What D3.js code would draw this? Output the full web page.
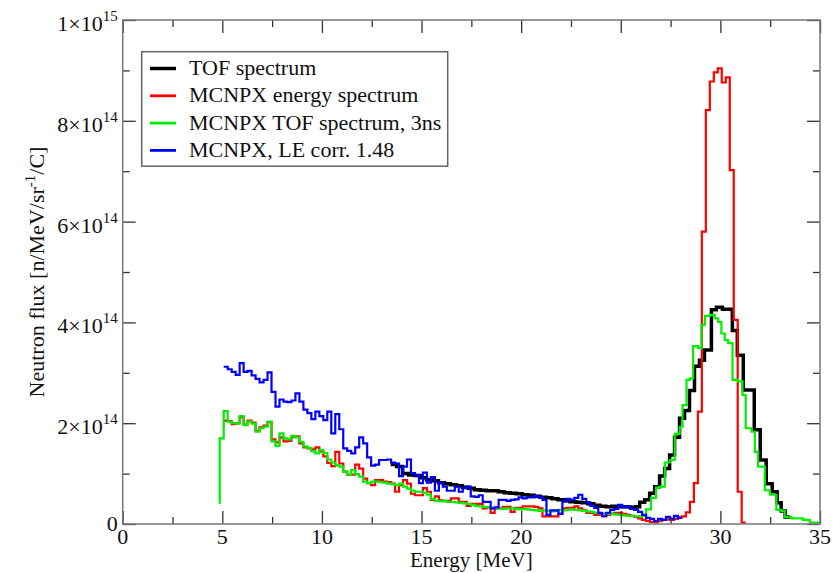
<!DOCTYPE html>
<html><head><meta charset="utf-8">
<script src="https://cdn.jsdelivr.net/npm/d3@7"></script>
<style>
body{margin:0;background:#fff}
svg text{font-family:"Liberation Serif","DejaVu Serif","Times New Roman",serif;}
</style>
</head><body><svg id="c" width="840" height="573"></svg>
<script>
// Values in units of 1e14 n/MeV/sr/C
const gridStart = 5.07, gridStep = 0.2;

const redValues = [
2.05,2.04,1.98,2.00,2.12,1.97,2.05,2.01,1.85,1.92,
1.95,2.02,1.68,1.62,1.72,1.64,1.65,1.73,1.74,1.60,
1.52,1.50,1.48,1.52,1.44,1.34,1.21,1.15,1.43,1.20,
1.04,0.98,0.98,1.18,1.10,0.90,0.81,
0.77,0.87,0.87,0.84,0.83,0.80,0.64,0.77,0.87,0.80,
0.60,0.57,0.57,0.71,0.64,0.48,0.55,0.47,0.46,0.46,
0.51,0.51,0.44,0.44,0.36,0.40,0.40,0.40,0.31,0.33,
0.22,0.31,0.31,0.34,0.34,0.24,0.32,0.32,0.35,0.35,
0.35,0.34,0.31,0.15,0.15,0.15,0.15,0.20,0.31,0.32,
0.32,0.35,0.31,0.27,0.22,0.22,0.18,0.18,0.15,0.18,
0.20,0.22,0.22,0.20,0.18,0.16,0.14,0.11,0.08,0.06,
0.04,0.03,0.06,0.08,0.09,0.08,0.10,0.13,0.15,
0.23,0.44,0.81,2.23,5.80,8.21,8.78,8.96,9.04,8.76,8.86,7.02,4.05,0.64,0.03
];

const blueValues = [
3.12,3.07,3.02,2.96,3.19,3.02,3.04,2.95,2.88,2.81,
2.86,3.01,2.62,2.33,2.47,2.43,2.42,2.45,2.59,2.43,
2.27,2.20,2.08,2.23,2.14,2.06,2.23,1.80,2.18,1.88,
1.50,1.45,1.40,1.52,1.72,1.60,1.32,
1.16,1.18,1.27,1.27,1.28,1.22,1.20,0.95,1.14,1.28,
1.01,0.97,0.81,1.02,0.82,0.93,0.66,0.82,0.74,0.66,
0.66,0.74,0.64,0.71,0.74,0.55,0.54,0.57,0.44,0.44,
0.31,0.33,0.48,0.48,0.46,0.48,0.49,0.53,0.51,0.53,
0.53,0.56,0.53,0.48,0.18,0.27,0.27,0.20,0.45,0.50,
0.48,0.52,0.58,0.50,0.43,0.36,0.32,0.22,0.16,0.22,
0.28,0.30,0.38,0.33,0.35,0.30,0.28,0.24,0.18,0.12,
0.10,0.06,0.10,0.08,0.14,0.10,0.16,0.12
];

const greenHeadE = [4.87, 4.87];
const greenHeadV = [0.40, 1.70];
const greenGridValues = [
2.24,2.03,2.00,1.99,2.14,1.96,2.03,1.99,1.83,1.90,
1.93,2.03,1.64,1.55,1.80,1.70,1.68,1.75,1.72,1.63,
1.54,1.51,1.44,1.40,1.47,1.41,1.28,1.22,1.17,1.14,
1.04,0.98,1.07,0.99,0.94,0.84,0.81,
0.84,0.84,0.83,0.82,0.80,0.79,0.77,0.80,0.74,0.70,
0.66,0.64,0.64,0.62,0.58,0.50,0.46,0.45,0.46,0.44,
0.44,0.43,0.42,0.41,0.40,0.38,0.36,0.35,0.34,0.33,
0.32,0.31,0.31,0.30,0.31,0.31,0.30,0.29,0.30,0.29,
0.28,0.27,0.26,0.27,0.26,0.25,0.26,0.28,0.27,0.28,
0.29,0.28,0.27,0.26,0.25,0.24,0.22,0.21,0.21,0.20,
0.20,0.19,0.18,0.17,0.16,0.16,0.15,0.15,0.16
];
const greenTailE = [26.27,26.52,26.77,26.96,27.21,27.46,27.71,27.96,28.10,28.30,28.47,28.63,28.88,29.05,29.22,29.47,29.72,29.89,30.05,30.22,30.39,30.61,30.89,31.11,31.27,31.56,31.73,31.89,32.23,32.48,32.81,33.06,33.23,33.57,34.15,34.49];
const greenTailV = [0.29,0.52,0.72,0.74,1.22,1.27,1.79,1.93,2.36,2.86,2.89,3.53,3.49,3.95,4.13,4.15,4.08,4.01,3.78,3.65,3.59,2.86,2.83,2.56,1.90,1.83,1.43,1.14,0.67,0.58,0.28,0.26,0.14,0.11,0.08,0.03];
const greenEnd = 35.0;

const blackE = [13.45,13.75,14.05,14.35,14.65,14.95,15.25,15.55,15.85,16.15,16.45,16.75,17.05,17.35,17.65,17.95,18.25,18.55,18.85,19.15,19.45,19.75,20.05,20.35,20.65,20.95,21.25,21.55,21.85,22.15,22.45,22.75,23.05,23.35,23.65,23.95,24.25,24.55,24.85,25.15,25.45,25.75,25.95,26.20,26.45,26.70,26.95,27.20,27.45,27.70,27.95,28.20,28.45,28.70,28.95,29.20,29.55,29.80,30.10,30.60,30.85,31.15,31.70,32.00,32.30,32.60,32.85,33.05,33.25];
const blackV = [1.18,1.14,1.00,0.97,0.96,0.92,0.88,0.86,0.82,0.80,0.78,0.76,0.73,0.71,0.68,0.67,0.66,0.66,0.64,0.62,0.61,0.60,0.58,0.57,0.55,0.53,0.52,0.50,0.48,0.46,0.44,0.43,0.42,0.40,0.37,0.35,0.34,0.35,0.34,0.34,0.33,0.34,0.43,0.48,0.61,0.74,0.95,1.10,1.37,1.72,2.10,2.25,2.65,3.13,3.25,3.45,4.25,4.30,4.26,3.84,3.35,2.66,1.87,1.27,0.80,0.64,0.42,0.26,0.14];
const blackEnd = 33.5;

const xMajorTicks = [0,5,10,15,20,25,30,35];
const xMinorTicks = [2.5,7.5,12.5,17.5,22.5,27.5,32.5];
const yMajorTicks = [0,2,4,6,8,10];
const yMinorTicks = [1,3,5,7,9];
const yTickMain = ["0","2\u00d710","4\u00d710","6\u00d710","8\u00d710","1\u00d710"];
const yTickSup  = ["","14","14","14","14","15"];

const legendLabels = ["TOF spectrum","MCNPX energy spectrum","MCNPX TOF spectrum, 3ns","MCNPX, LE corr. 1.48"];
const seriesColors = ["#000000","#ff0000","#00ee00","#0000ff"];
const seriesWidths = [3.5,2.2,2.2,2.2];

// ---- build point lists (step-after) ----
function gridPoints(vals, start){
  const pts = vals.map((v,i)=>[start + i*gridStep, v]);
  pts.push([start + vals.length*gridStep, vals[vals.length-1]]);
  return pts;
}
function edgePoints(E, V, end){
  const pts = E.map((e,i)=>[e, V[i]]);
  pts.push([end, V[V.length-1]]);
  return pts;
}
const redPts = gridPoints(redValues, gridStart);
const bluePts = gridPoints(blueValues, gridStart);
const greenPts = greenHeadE.map((e,i)=>[e, greenHeadV[i]])
  .concat(greenGridValues.map((v,i)=>[gridStart+i*gridStep, v]))
  .concat(edgePoints(greenTailE, greenTailV, greenEnd));
const blackPts = edgePoints(blackE, blackV, blackEnd);
const allSeries = [blackPts, redPts, greenPts, bluePts];

const svg = d3.select("#c");
const L = 122.7, R = 820, T = 20, B = 524;
const x = d3.scaleLinear().domain([0,35]).range([L,R]);
const y = d3.scaleLinear().domain([0,10]).range([B,T]);

svg.append("defs").append("clipPath").attr("id","clip")
  .append("rect").attr("x",L).attr("y",T).attr("width",R-L).attr("height",B-T);

const line = d3.line().x(d=>x(d[0])).y(d=>y(d[1])).curve(d3.curveStepAfter);
const g = svg.append("g").attr("clip-path","url(#clip)");
allSeries.forEach((pts,i)=>{
  g.append("path").attr("d", line(pts)).attr("fill","none")
   .attr("stroke", seriesColors[i]).attr("stroke-width", seriesWidths[i])
   .attr("stroke-linejoin","miter");
});

// ---- axes (ticks inward) ----
function ax(gen, tr, vals, size){
  const a = svg.append("g").attr("transform", tr)
    .call(gen.tickValues(vals).tickSize(-size).tickFormat(""));
  a.select(".domain").remove();
  a.selectAll("line").attr("stroke","#333").attr("stroke-width",1.3);
}
ax(d3.axisBottom(x), `translate(0,${B})`, xMajorTicks, 13);
ax(d3.axisBottom(x), `translate(0,${B})`, xMinorTicks, 7);
ax(d3.axisTop(x), `translate(0,${T})`, xMajorTicks, 13);
ax(d3.axisTop(x), `translate(0,${T})`, xMinorTicks, 7);
ax(d3.axisLeft(y), `translate(${L},0)`, yMajorTicks, 13);
ax(d3.axisLeft(y), `translate(${L},0)`, yMinorTicks, 7);
ax(d3.axisRight(y), `translate(${R},0)`, yMajorTicks, 13);
ax(d3.axisRight(y), `translate(${R},0)`, yMinorTicks, 7);

svg.append("rect").attr("x",L).attr("y",T).attr("width",R-L).attr("height",B-T)
  .attr("fill","none").attr("stroke","#777").attr("stroke-width",1.5);

// tick labels
svg.append("g").selectAll("text").data(xMajorTicks).join("text")
  .attr("x", d=>x(d)).attr("y", B+19.5).attr("text-anchor","middle")
  .attr("font-size",22).attr("fill","#111").text(d=>d);

const yl = svg.append("g").selectAll("text").data(yMajorTicks).join("text")
  .attr("x", L-5).attr("y", d=>y(d)+ (d===0?7:11)).attr("text-anchor","end")
  .attr("font-size",22).attr("fill","#111");
yl.each(function(d,i){
  const t = d3.select(this);
  t.append("tspan").text(yTickMain[i]);
  if (yTickSup[i]) t.append("tspan").attr("dy",-10).attr("font-size",15).text(yTickSup[i]);
});

// axis titles
svg.append("text").attr("x",(L+R)/2).attr("y",567).attr("text-anchor","middle")
  .attr("font-size",21).attr("fill","#111").text("Energy [MeV]");
const yt = svg.append("text").attr("transform",`translate(44,${(T+B)/2}) rotate(-90)`)
  .attr("text-anchor","middle").attr("font-size",22).attr("fill","#111");
yt.append("tspan").text("Neutron flux [n/MeV/sr");
yt.append("tspan").attr("dy",-9).attr("font-size",15).text("-1");
yt.append("tspan").attr("dy",9).text("/C]");

// legend
const lg = svg.append("g");
lg.append("rect").attr("x",141.7).attr("y",51.7).attr("width",306).attr("height",114.5)
  .attr("fill","#fff").attr("stroke","#666").attr("stroke-width",1.5);
legendLabels.forEach((lab,i)=>{
  const yy = 68.5 + i*27.3;
  lg.append("line").attr("x1",150).attr("x2",176).attr("y1",yy).attr("y2",yy)
    .attr("stroke",seriesColors[i]).attr("stroke-width", i===0?3.5:2.8);
  lg.append("text").attr("x",189).attr("y",yy+6.5)
    .attr("font-size",22).attr("fill","#111").text(lab);
});
</script></body></html>
